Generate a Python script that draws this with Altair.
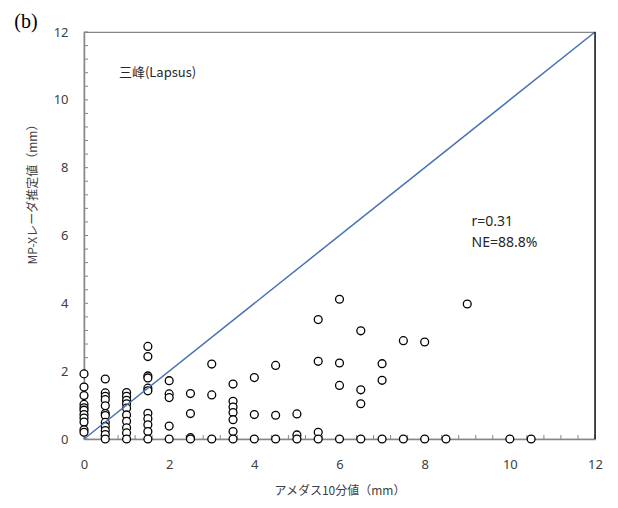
import altair as alt
import pandas as pd

# ---- data ----
amedas = (
    [0.0] * 11 + [0.5] * 12 + [1.0] * 10 + [1.5] * 11 + [2.0] * 5 + [2.5] * 4 +
    [3.0] * 3 + [3.5] * 7 + [4.0] * 3 + [4.5] * 3 + [5.0] * 3 + [5.5] * 4 +
    [6.0] * 4 + [6.5] * 4 + [7.0] * 3 + [7.5] * 2 + [8.0] * 2 + [8.5] + [9.0] +
    [10.0] + [10.5]
)
mpx = [
    1.92, 1.53, 1.28, 1.02, 0.92, 0.85, 0.72, 0.62, 0.50, 0.27, 0.20,
    1.77, 1.36, 1.26, 1.16, 0.98, 0.75, 0.69, 0.49, 0.37, 0.25, 0.13, 0.0,
    1.37, 1.26, 1.14, 1.04, 0.91, 0.71, 0.52, 0.33, 0.18, 0.0,
    2.73, 2.43, 1.86, 1.80, 1.50, 1.42, 0.76, 0.60, 0.42, 0.22, 0.0,
    1.72, 1.33, 1.22, 0.38, 0.0,
    1.34, 0.75, 0.04, 0.0,
    2.21, 1.30, 0.0,
    1.62, 1.11, 0.94, 0.78, 0.57, 0.22, 0.0,
    1.81, 0.72, 0.0,
    2.17, 0.70, 0.0,
    0.74, 0.12, 0.0,
    3.52, 2.29, 0.20, 0.0,
    4.12, 2.24, 1.58, 0.0,
    3.19, 1.45, 1.04, 0.0,
    2.22, 1.73, 0.0,
    2.90, 0.0,
    2.86, 0.0,
    0.0,
    3.98,
    0.0,
    0.0,
]
diag_x = [0, 12]
diag_y = [0, 12]
major_ticks = [0, 2, 4, 6, 8, 10, 12]
minor_ticks = [round(0.4 * i, 1) for i in range(31)]
station_text = ["三峰(Lapsus)"]
station_x = [0.82]
station_y = [10.8]
stats_text = ["r=0.31", "NE=88.8%"]
stats_x = [9.1, 9.1]
stats_y = [6.4, 5.77]
panel_text = ["(b)"]

W, H = 511, 407
AXC = "#868686"
LBL = "#404040"

pts_df = pd.DataFrame({"x": amedas, "y": mpx})
diag_df = pd.DataFrame({"x": diag_x, "y": diag_y})
xt_df = pd.DataFrame({"x": minor_ticks})
yt_df = pd.DataFrame({"y": minor_ticks})
st_df = pd.DataFrame({"x": station_x, "y": station_y, "t": station_text})
stats_df = pd.DataFrame({"x": stats_x, "y": stats_y, "t": stats_text})
pan_df = pd.DataFrame({"t": panel_text})

xscale = alt.Scale(domain=[0, 12], nice=False, zero=False)
yscale = alt.Scale(domain=[0, 12], nice=False, zero=False)

xaxis = alt.Axis(
    values=major_ticks, ticks=False, tickSize=0, grid=False,
    domainColor=AXC, domainWidth=1.5, labelColor=LBL, labelFont="Noto Sans",
    labelFontSize=13, labelPadding=19, labelFlush=False,
    title="アメダス10分値（mm）", titleFont="Noto Sans CJK JP", titleFontSize=12,
    titleFontWeight="normal", titleColor=LBL, titlePadding=14,
)
yaxis = alt.Axis(
    values=major_ticks, ticks=False, tickSize=0, grid=False,
    domainColor=AXC, domainWidth=1.5, labelColor=LBL, labelFont="Noto Sans",
    labelFontSize=13, labelPadding=16, labelFlush=False,
    title="MP-Xレーダ推定値（mm）", titleFont="Noto Sans CJK JP", titleFontSize=12,
    titleFontWeight="normal", titleColor=LBL, titleX=-52, titleY=159,
    titleAlign="center", titleBaseline="middle", titleAngle=270,
)

X = alt.X("x:Q", scale=xscale, axis=xaxis)
Y = alt.Y("y:Q", scale=yscale, axis=yaxis)

xticks = alt.Chart(xt_df).mark_rule(color=AXC, strokeWidth=1).encode(
    x=X, y=alt.value(H), y2=alt.value(H - 4)
)
yticks = alt.Chart(yt_df).mark_rule(color=AXC, strokeWidth=1).encode(
    y=Y, x=alt.value(0), x2=alt.value(4)
)
right_border = alt.Chart(pan_df).mark_rule(color="#000000", strokeWidth=1.2).encode(
    x=alt.value(W), y=alt.value(0), y2=alt.value(H)
)
points = alt.Chart(pts_df).mark_circle(
    fill="white", stroke="black", strokeWidth=1.3, size=62, opacity=1, fillOpacity=1
).encode(x=X, y=Y)
diag = alt.Chart(diag_df).mark_line(color="#4672B4", strokeWidth=1.5).encode(x=X, y=Y)
station = alt.Chart(st_df).mark_text(
    align="left", baseline="middle", font="Noto Sans CJK JP", fontSize=13, color="#262626"
).encode(x=X, y=Y, text="t:N")
stats = alt.Chart(stats_df).mark_text(
    align="left", baseline="middle", font="Noto Sans", fontSize=14, color="#262626"
).encode(x=X, y=Y, text="t:N")
panel = alt.Chart(pan_df).mark_text(
    align="center", baseline="middle", font="Liberation Serif", fontSize=20, color="#000000"
).encode(x=alt.value(-58), y=alt.value(-10), text="t:N")

chart = alt.layer(
    xticks, yticks, points, diag, right_border, station, stats, panel
).properties(
    width=W, height=H,
    autosize=alt.AutoSizeParams(type="none"),
    padding={"left": 76, "top": 24, "right": 15, "bottom": 61},
    background="white",
).configure_view(stroke=AXC, strokeWidth=1.2)

chart.save("out.html", embed_options={"renderer": "svg", "actions": False})
